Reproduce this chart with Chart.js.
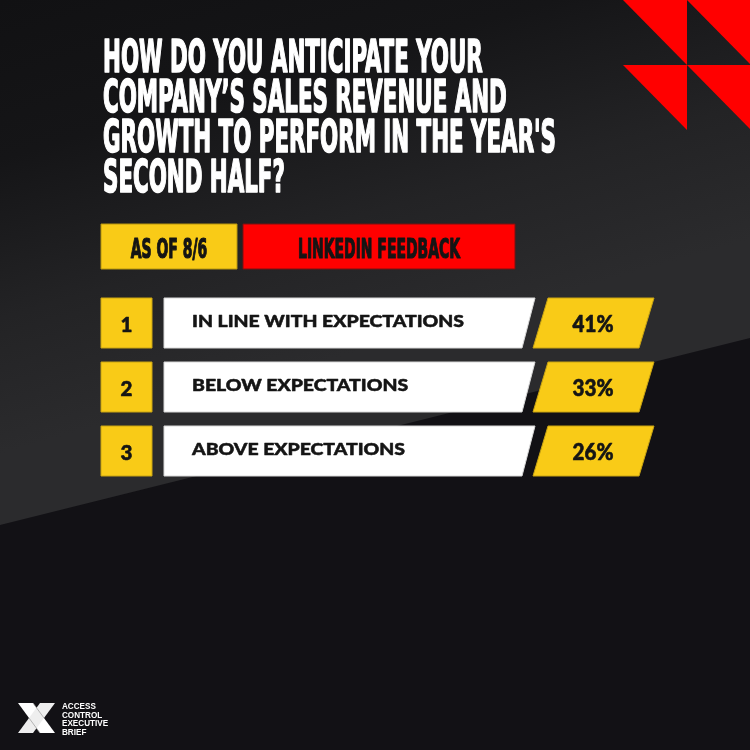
<!DOCTYPE html>
<html><head><meta charset="utf-8">
<script src="https://cdn.jsdelivr.net/npm/chart.js@4.4.1/dist/chart.umd.min.js"></script>
<style>html,body{margin:0;padding:0;background:#121214;}canvas{display:block}</style>
</head><body>
<div style="width:750px;height:750px"><canvas id="c" width="750" height="750"></canvas></div>
<script>
const titleLines = ["HOW DO YOU ANTICIPATE YOUR", "COMPANY’S SALES REVENUE AND", "GROWTH TO PERFORM IN THE YEAR'S", "SECOND HALF?"];
const tabLabels = ["AS OF 8/6", "LINKEDIN FEEDBACK"];
const ranks = ["1", "2", "3"];
const categories = ["IN LINE WITH EXPECTATIONS", "BELOW EXPECTATIONS", "ABOVE EXPECTATIONS"];
const values = [41, 33, 26];
const brandLines = ["ACCESS", "CONTROL", "EXECUTIVE", "BRIEF"];

const COND = "'Liberation Sans Narrow','DejaVu Sans Condensed',sans-serif";
const SANS = "Lato,'Open Sans',sans-serif";
const YELLOW = '#f9cb17';
const RED = '#ff0000';

function capRatio(ctx, weight, family) {
  ctx.font = weight + ' 100px ' + family;
  return ctx.measureText('H').actualBoundingBoxAscent / 100;
}
function setFont(ctx, weight, family, cap) {
  const size = cap / capRatio(ctx, weight, family);
  ctx.font = weight + ' ' + size + 'px ' + family;
}
function widthOf(ctx, text, weight, family, cap) {
  setFont(ctx, weight, family, cap);
  return ctx.measureText(text).width;
}
function drawText(ctx, text, x, y, o) {
  setFont(ctx, o.weight, o.family, o.cap);
  ctx.save();
  ctx.translate(x, y);
  ctx.scale(o.sx || 1, 1);
  ctx.textAlign = o.align || 'left';
  ctx.textBaseline = 'alphabetic';
  ctx.fillStyle = o.color;
  ctx.fillText(text, 0, 0);
  if (o.stroke) {
    ctx.strokeStyle = o.color; ctx.lineWidth = o.stroke; ctx.lineJoin = 'round';
    ctx.strokeText(text, 0, 0);
  }
  ctx.restore();
}
function poly(ctx, pts, fill, stroke) {
  ctx.beginPath();
  pts.forEach((p, i) => i ? ctx.lineTo(p[0], p[1]) : ctx.moveTo(p[0], p[1]));
  ctx.closePath();
  ctx.fillStyle = fill; ctx.fill();
  if (stroke) { ctx.strokeStyle = stroke; ctx.lineWidth = 1; ctx.stroke(); }
}

const bgPlugin = {
  id: 'bg',
  beforeDraw(chart) {
    const ctx = chart.ctx, W = chart.width, H = chart.height;
    ctx.save();
    const g = ctx.createLinearGradient(0, 0, 120, 420);
    g.addColorStop(0, '#111113');
    g.addColorStop(0.35, '#151517');
    g.addColorStop(0.7, '#232325');
    g.addColorStop(1, '#2b2b2d');
    ctx.fillStyle = g; ctx.fillRect(0, 0, W, H);
    poly(ctx, [[0, 525], [W, 338], [W, H], [0, H]], '#121115');
    for (let i = 0; i < 2; i++) for (let j = 0; j < 2; j++) {
      const x = 623 + 64 * i, y = 65 * j;
      poly(ctx, [[x, y], [x + 64, y], [x + 64, y + 65]], RED);
    }
    const tw = widthOf(ctx, titleLines[2], 'bold', COND, 32);
    const tsx = (555 - 102) / tw;
    titleLines.forEach((t, i) => drawText(ctx, t, 103, 72 + 40 * i, {weight: 'bold', family: COND, cap: 32, color: '#ffffff', sx: tsx, stroke: 1.6}));
    poly(ctx, [[101, 224], [237, 224], [237, 269], [101, 269]], YELLOW, '#b8960f');
    poly(ctx, [[243, 224], [515, 224], [515, 269], [243, 269]], RED, '#7a1010');
    const bw = widthOf(ctx, tabLabels[1], 'bold', COND, 20);
    const bsx = 162 / bw;
    drawText(ctx, tabLabels[0], 169, 258, {weight: 'bold', family: COND, cap: 20, color: '#141414', sx: bsx, align: 'center', stroke: 1.2});
    drawText(ctx, tabLabels[1], 379, 258, {weight: 'bold', family: COND, cap: 20, color: '#141414', sx: bsx, align: 'center', stroke: 1.2});
    poly(ctx, [[18, 703], [33, 703], [55, 733], [40, 733]], '#ffffff');
    poly(ctx, [[40, 703], [55, 703], [33, 733], [18, 733]], '#eeeeee');
    ctx.strokeStyle = '#9a9a9a'; ctx.lineWidth = 0.7;
    ctx.beginPath(); ctx.moveTo(33, 703); ctx.lineTo(44, 718); ctx.moveTo(29, 718); ctx.lineTo(40, 733); ctx.stroke();
    brandLines.forEach((t, i) => drawText(ctx, t, 62, 709 + 8.6 * i, {weight: 'bold', family: "'Liberation Sans','DejaVu Sans',sans-serif", cap: 6, color: '#ffffff', sx: 0.95}));
    ctx.restore();
  }
};

const rowsPlugin = {
  id: 'rows',
  afterDatasetsDraw(chart) {
    const ctx = chart.ctx;
    const meta = chart.getDatasetMeta(0);
    const left = chart.chartArea.left;
    const lw = widthOf(ctx, categories[0], '900', SANS, 12);
    const lsx = 272 / lw;
    const pw = widthOf(ctx, values[0] + '%', '900', SANS, 16);
    const psx = 41 / pw;
    ctx.save();
    meta.data.forEach((el, i) => {
      const p = el.getProps(['y', 'height'], true);
      const t = p.y - p.height / 2, b = p.y + p.height / 2;
      poly(ctx, [[left, t], [left + 51, t], [left + 51, b], [left, b]], YELLOW, '#c9a412');
      poly(ctx, [[left + 63, t], [left + 434, t], [left + 421, b], [left + 63, b]], '#ffffff', '#d8d8d8');
      poly(ctx, [[left + 447, t], [left + 553, t], [left + 538, b], [left + 432, b]], YELLOW, '#c9a412');
      drawText(ctx, ranks[i], left + 25.5, p.y + 8.5, {weight: '900', family: SANS, cap: 15, color: '#151515', align: 'center', stroke: 0.6});
      drawText(ctx, categories[i], left + 91, p.y + 3.8, {weight: '900', family: SANS, cap: 12, color: '#151515', sx: lsx, stroke: 0.5});
      drawText(ctx, values[i] + '%', left + 492, p.y + 8.5, {weight: '900', family: SANS, cap: 16, color: '#151515', align: 'center', sx: psx, stroke: 0.6});
    });
    ctx.restore();
  }
};

new Chart(document.getElementById('c'), {
  type: 'bar',
  data: {
    labels: categories,
    datasets: [{data: values, backgroundColor: 'rgba(0,0,0,0)', borderWidth: 0, barPercentage: 1, categoryPercentage: 50 / 64}]
  },
  options: {
    indexAxis: 'y',
    responsive: false,
    animation: false,
    devicePixelRatio: 1,
    layout: {padding: {top: 291, bottom: 267, left: 101, right: 96}},
    scales: {x: {display: false, min: 0, max: 100}, y: {display: false}},
    plugins: {legend: {display: false}, tooltip: {enabled: false}}
  },
  plugins: [bgPlugin, rowsPlugin]
});
</script>
</body></html>
